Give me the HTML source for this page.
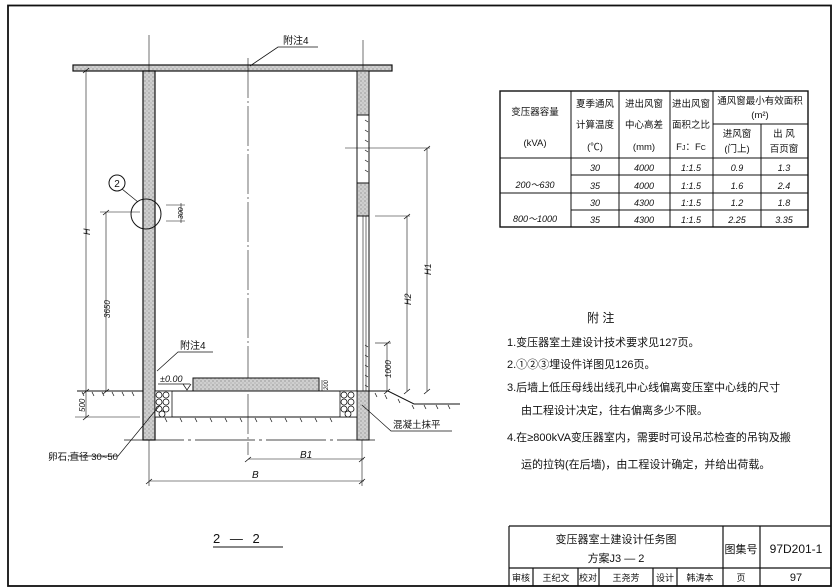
<!DOCTYPE html>
<html><head><meta charset="utf-8"><style>
html,body{margin:0;padding:0;background:#fff;}
svg{display:block;}
text{font-family:"Liberation Sans","Noto Sans CJK SC",sans-serif;fill:#111;}
</style></head><body>
<svg width="838" height="588" viewBox="0 0 838 588" xmlns="http://www.w3.org/2000/svg">
<defs>
<pattern id="conc" width="4" height="4" patternUnits="userSpaceOnUse">
<rect width="4" height="4" fill="#cfcfcf"/><circle cx="1" cy="1" r="0.6" fill="#777"/><circle cx="3" cy="3" r="0.5" fill="#888"/>
</pattern>
</defs>
<g stroke="#111" fill="none">
<rect x="8" y="5.5" width="823" height="580.5" stroke-width="1.8"/>
<rect x="73" y="65" width="319" height="6" fill="url(#conc)" stroke-width="1.2"/>
<rect x="143" y="71" width="12" height="369" fill="url(#conc)" stroke-width="1.2"/>
<rect x="357" y="71" width="12" height="44" fill="url(#conc)" stroke-width="1"/>
<rect x="357" y="183" width="12" height="33" fill="url(#conc)" stroke-width="1"/>
<rect x="357" y="391" width="12" height="49" fill="url(#conc)" stroke-width="1"/>
<line x1="357" y1="115" x2="357" y2="391" stroke-width="1"/>
<line x1="369" y1="115" x2="369" y2="391" stroke-width="1"/>
<line x1="363" y1="216" x2="363" y2="391" stroke-width="0.6"/>
<line x1="366" y1="216" x2="366" y2="391" stroke-width="0.6"/>
<g stroke-width="0.7">
<path d="M365 120l3 2M365 130l3 2M365 140l3 2M365 150l3 2M365 160l3 2M365 170l3 2M365 345l3 2M365 355l3 2M365 365l3 2M365 375l3 2M365 385l3 2"/>
</g>
<line x1="248" y1="58" x2="248" y2="455" stroke-width="0.6" stroke-dasharray="40 3 2 3"/>
<line x1="149" y1="35" x2="149" y2="72" stroke-width="0.6"/>
<line x1="363" y1="40" x2="363" y2="70" stroke-width="0.6"/>
<polyline points="250,66 278,47 318,47" stroke-width="0.8"/>
<line x1="77" y1="391" x2="143" y2="391" stroke-width="1"/>
<line x1="155" y1="391" x2="357" y2="391" stroke-width="1"/>
<polyline points="369,391 388,391 414,404 460,404" stroke-width="1"/>
<line x1="155" y1="417" x2="357" y2="417" stroke-width="1"/>
<line x1="75" y1="417" x2="140" y2="417" stroke-width="0.6"/>
<line x1="124" y1="440" x2="375" y2="440" stroke-width="0.7" stroke-dasharray="60 4 3 4"/>
<g stroke-width="0.7">
<path d="M82 392l2 4M92 392l2 4M102 392l2 4M112 392l2 4M122 392l2 4M132 392l2 4"/>
<path d="M165 418l2 4M180 418l2 4M195 418l2 4M210 418l2 4M225 418l2 4M240 418l2 4M255 418l2 4M270 418l2 4M285 418l2 4M300 418l2 4M315 418l2 4M330 418l2 4"/>
<path d="M375 393l2 4M385 395l2 4M398 399l2 4M412 405l2 4M424 405l2 4M436 405l2 4M448 405l2 4"/>
</g>
<rect x="155" y="391" width="17" height="26" fill="#fff" stroke-width="0.8"/>
<rect x="340" y="391" width="17" height="26" fill="#fff" stroke-width="0.8"/>
<g stroke-width="0.8">
<circle cx="159" cy="395" r="3"/><circle cx="166" cy="395" r="3"/><circle cx="159" cy="402" r="3"/><circle cx="166" cy="402" r="3"/><circle cx="159" cy="409" r="3"/><circle cx="166" cy="409" r="3"/><circle cx="162" cy="414" r="3"/>
<circle cx="344" cy="395" r="3"/><circle cx="351" cy="395" r="3"/><circle cx="344" cy="402" r="3"/><circle cx="351" cy="402" r="3"/><circle cx="344" cy="409" r="3"/><circle cx="351" cy="409" r="3"/><circle cx="348" cy="414" r="3"/>
</g>
<rect x="193" y="378" width="126" height="13" fill="url(#conc)" stroke-width="1"/>
<line x1="158" y1="384" x2="190" y2="384" stroke-width="0.7"/>
<path d="M183 384l4 6 4-6" stroke-width="0.7"/>
<polyline points="157,371 178,352 213,352" stroke-width="0.7"/>
<line x1="86" y1="70" x2="86" y2="392" stroke-width="0.6"/>
<line x1="106" y1="212" x2="106" y2="392" stroke-width="0.6"/>
<line x1="100" y1="212" x2="140" y2="212" stroke-width="0.6"/>
<line x1="86" y1="392" x2="86" y2="418" stroke-width="0.6"/>
<path d="M83 73l6-5M103 215l6-5M103 394l6-5M83 394l6-5M83 420l6-5" stroke-width="0.8"/>
<circle cx="117" cy="183" r="8" stroke-width="1"/>
<circle cx="146" cy="214" r="15" stroke-width="1"/>
<line x1="122" y1="189" x2="138" y2="202" stroke-width="0.7"/>
<line x1="166" y1="205" x2="185" y2="205" stroke-width="0.6"/>
<line x1="166" y1="221" x2="185" y2="221" stroke-width="0.6"/>
<line x1="181" y1="203" x2="181" y2="223" stroke-width="0.6"/>
<line x1="345" y1="148" x2="430" y2="148" stroke-width="0.6"/>
<line x1="427" y1="148" x2="427" y2="391" stroke-width="0.6"/>
<line x1="375" y1="216" x2="410" y2="216" stroke-width="0.6"/>
<line x1="407" y1="216" x2="407" y2="391" stroke-width="0.6"/>
<line x1="375" y1="343" x2="391" y2="343" stroke-width="0.6"/>
<line x1="387" y1="343" x2="387" y2="391" stroke-width="0.6"/>
<path d="M424 151l6-5M404 219l6-5M384 346l6-5M424 394l6-5M404 394l6-5M384 394l6-5" stroke-width="0.8"/>
<line x1="322" y1="380" x2="322" y2="391" stroke-width="0.6"/>
<line x1="248" y1="459" x2="364" y2="459" stroke-width="0.6"/>
<line x1="149" y1="481" x2="364" y2="481" stroke-width="0.6"/>
<line x1="149" y1="440" x2="149" y2="486" stroke-width="0.6"/>
<line x1="362" y1="440" x2="362" y2="486" stroke-width="0.6"/>
<path d="M245 462l6-5M359 462l6-5M146 484l6-5M359 484l6-5" stroke-width="0.8"/>
<polyline points="160,405 118,456 68,456" stroke-width="0.7"/>
<polyline points="362,405 391,431 452,431" stroke-width="0.7"/>
<line x1="213" y1="547" x2="283" y2="547" stroke-width="1"/>
<rect x="500" y="91" width="308" height="136" stroke-width="1.4"/>
<path d="M571 91V227M619 91V227M670 91V227M713 91V227M761 124V227M713 124H808M500 158H808M571 175H808M500 193H808M571 210H808" stroke-width="1"/>
<path d="M509 526H831M509 526V586M509 568H831M723 526V586M760 526V586M533 568V586M578 568V586M599 568V586M653 568V586M677 568V586" stroke-width="1.2"/>
</g>
<g font-size="10">
<text x="283" y="44">附注4</text>
<text x="180" y="349">附注4</text>
<text x="160" y="382" font-size="9" font-style="italic">±0.00</text>
<text x="117" y="187" font-size="10" text-anchor="middle">2</text>
<text x="48" y="460" font-size="9.5">卵石,直径 30~50</text>
<text x="393" y="428" font-size="9.5">混凝土抹平</text>
<text x="300" y="458" font-style="italic">B1</text>
<text x="252" y="478" font-style="italic">B</text>
<text x="213" y="543" font-size="13" letter-spacing="3">2 — 2</text>
</g>
<g font-size="9" font-style="italic">
<text transform="translate(90,235) rotate(-90)">H</text>
<text transform="translate(110,318) rotate(-90)" font-size="8">3650</text>
<text transform="translate(85,412) rotate(-90)" font-size="8">500</text>
<text transform="translate(183,219) rotate(-90)" font-size="7">300</text>
<text transform="translate(431,275) rotate(-90)">H1</text>
<text transform="translate(411,305) rotate(-90)">H2</text>
<text transform="translate(391,378) rotate(-90)" font-size="8">1000</text>
<text transform="translate(328,390) rotate(-90)" font-size="6">200</text>
</g>
<g font-size="9.5" text-anchor="middle">
<text x="535" y="115">变压器容量</text>
<text x="535" y="146">(kVA)</text>
<text x="595" y="107">夏季通风</text>
<text x="595" y="128">计算温度</text>
<text x="595" y="150">(℃)</text>
<text x="644" y="107">进出风窗</text>
<text x="644" y="128">中心高差</text>
<text x="644" y="150">(mm)</text>
<text x="691" y="107">进出风窗</text>
<text x="691" y="128">面积之比</text>
<text x="691" y="150">F<tspan font-size="7">J</tspan>：F<tspan font-size="7">C</tspan></text>
<text x="760" y="104">通风窗最小有效面积</text>
<text x="760" y="118">(m²)</text>
<text x="737" y="137">进风窗</text>
<text x="737" y="152">(门上)</text>
<text x="784" y="137">出 风</text>
<text x="784" y="152">百页窗</text>
<g font-style="italic" font-size="9">
<text x="535" y="188">200～630</text>
<text x="535" y="222">800～1000</text>
<text x="595" y="171">30</text><text x="644" y="171">4000</text><text x="691" y="171">1:1.5</text><text x="737" y="171">0.9</text><text x="784" y="171">1.3</text>
<text x="595" y="189">35</text><text x="644" y="189">4000</text><text x="691" y="189">1:1.5</text><text x="737" y="189">1.6</text><text x="784" y="189">2.4</text>
<text x="595" y="206">30</text><text x="644" y="206">4300</text><text x="691" y="206">1:1.5</text><text x="737" y="206">1.2</text><text x="784" y="206">1.8</text>
<text x="595" y="223">35</text><text x="644" y="223">4300</text><text x="691" y="223">1:1.5</text><text x="737" y="223">2.25</text><text x="784" y="223">3.35</text>
</g>
</g>
<g font-size="11">
<text x="587" y="322" font-size="12">附  注</text>
<text x="507" y="346">1.变压器室土建设计技术要求见127页。</text>
<text x="507" y="368">2.①②③埋设件详图见126页。</text>
<text x="507" y="391">3.后墙上低压母线出线孔中心线偏离变压室中心线的尺寸</text>
<text x="521" y="414">由工程设计决定，往右偏离多少不限。</text>
<text x="507" y="441">4.在≥800kVA变压器室内，需要时可设吊芯检查的吊钩及搬</text>
<text x="521" y="468">运的拉钩(在后墙)，由工程设计确定，并给出荷载。</text>
</g>
<g font-size="11" text-anchor="middle">
<text x="616" y="543">变压器室土建设计任务图</text>
<text x="616" y="562">方案J3 — 2</text>
<text x="741" y="553">图集号</text>
<text x="796" y="553" font-size="12">97D201-1</text>
<g font-size="9">
<text x="521" y="581">审核</text><text x="556" y="581">王纪文</text><text x="588" y="581">校对</text><text x="626" y="581">王尧芳</text><text x="665" y="581">设计</text><text x="700" y="581">韩涛本</text><text x="741" y="581">页</text><text x="796" y="581" font-size="11">97</text>
</g>
</g>
</svg>
</body></html>
